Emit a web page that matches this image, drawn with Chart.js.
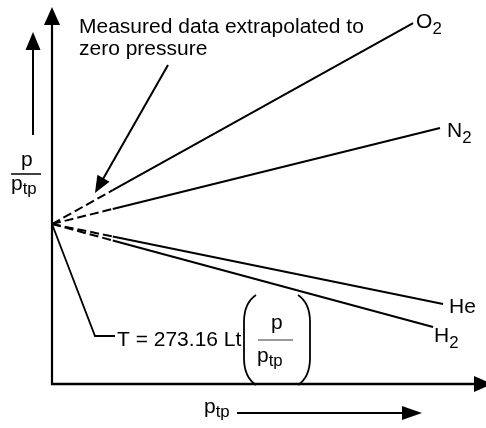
<!DOCTYPE html>
<html>
<head>
<meta charset="utf-8">
<script src="https://cdn.jsdelivr.net/npm/chart.js@4.4.1/dist/chart.umd.min.js"></script>
<style>
html, body { margin: 0; padding: 0; background: #fff; }
#wrap { width: 486px; height: 428px; }
</style>
</head>
<body>
<div id="wrap"><canvas id="gasChart"></canvas></div>
<script>
// gas thermometer: p/p_tp against p_tp, extrapolated to zero pressure
const gasNames = ['O', 'N', 'He', 'H'];
const gasSubs = ['2', '2', '', '2'];
const ratioAtZero = 1.0;
const ptpMeasuredFrom = [1.4, 1.4, 1.4, 1.4];
const ptpMeasuredTo = [8.32, 8.94, 9.01, 8.78];
const ratioMeasuredFrom = [1.211, 1.094, 0.922, 0.897];
const ratioMeasuredTo = [2.256, 1.6, 0.5, 0.356];

const FONT = '"Liberation Sans", Arial, sans-serif';
const stretch = 1.05;

function txt(ctx, s, x, y, size) {
    ctx.save();
    ctx.font = size + 'px ' + FONT;
    ctx.textBaseline = 'alphabetic';
    ctx.textAlign = 'left';
    ctx.translate(x, y);
    ctx.scale(stretch, 1);
    ctx.fillText(s, 0, 0);
    ctx.restore();
    ctx.font = size + 'px ' + FONT;
    return ctx.measureText(s).width * stretch;
}

function txtSub(ctx, s, sub, x, y, size, drop) {
    const w = txt(ctx, s, x, y, size);
    if (sub) txt(ctx, sub, x + w, y + drop, Math.round(size * 0.78));
}

function arrow(ctx, x1, y1, x2, y2, len, wid, lw) {
    const a = Math.atan2(y2 - y1, x2 - x1);
    const bx = x2 - Math.cos(a) * len, by = y2 - Math.sin(a) * len;
    ctx.lineWidth = lw;
    ctx.beginPath();
    ctx.moveTo(x1, y1);
    ctx.lineTo(bx + Math.cos(a) * 2, by + Math.sin(a) * 2);
    ctx.stroke();
    ctx.beginPath();
    ctx.moveTo(x2, y2);
    ctx.lineTo(bx + Math.sin(a) * wid / 2, by - Math.cos(a) * wid / 2);
    ctx.lineTo(bx - Math.sin(a) * wid / 2, by + Math.cos(a) * wid / 2);
    ctx.closePath();
    ctx.fill();
}

const labelOffsets = [[3, 5], [7, 9], [6, 9], [1, 15]];

const decor = {
    id: 'decor',
    afterDraw(chart) {
        const ctx = chart.ctx;
        const {left, bottom, right} = chart.chartArea;
        const xs = chart.scales.x, ys = chart.scales.y;
        ctx.save();
        ctx.strokeStyle = '#000';
        ctx.fillStyle = '#000';
        ctx.lineCap = 'butt';

        // axes
        arrow(ctx, left, bottom + 1, left, 7, 18, 16, 2.2);
        arrow(ctx, left - 1, bottom, right + 6, bottom, 18, 16, 2.5);

        // gas labels at line ends
        gasNames.forEach((g, i) => {
            const px = xs.getPixelForValue(ptpMeasuredTo[i]);
            const py = ys.getPixelForValue(ratioMeasuredTo[i]);
            txtSub(ctx, g, gasSubs[i], px + labelOffsets[i][0], py + labelOffsets[i][1], 20, 6);
        });

        // y label p / p_tp with arrow
        arrow(ctx, 33, 135, 33, 32, 18, 15, 2);
        txt(ctx, 'p', 21, 166, 20);
        ctx.lineWidth = 1.5;
        ctx.beginPath(); ctx.moveTo(11, 174); ctx.lineTo(41, 174); ctx.stroke();
        txtSub(ctx, 'p', 'tp', 11, 190, 20, 4);

        // x label p_tp with arrow
        txtSub(ctx, 'p', 'tp', 204, 413, 20, 4);
        arrow(ctx, 237, 413, 422, 413, 20, 14, 2);

        // annotation: extrapolation
        txt(ctx, 'Measured data extrapolated to', 79, 33, 20);
        txt(ctx, 'zero pressure', 79, 55, 20);
        arrow(ctx, 168, 65, 95, 193, 17, 14, 2);

        // annotation: T formula
        const ox = xs.getPixelForValue(0), oy = ys.getPixelForValue(ratioAtZero);
        ctx.lineWidth = 1.8;
        ctx.beginPath();
        ctx.moveTo(ox, oy); ctx.lineTo(95, 336); ctx.lineTo(115, 336);
        ctx.stroke();
        txt(ctx, 'T = 273.16 Lt', 117, 346, 20);
        ctx.lineWidth = 1.8;
        ctx.beginPath();
        ctx.moveTo(256, 295); ctx.quadraticCurveTo(244, 303, 244, 322);
        ctx.lineTo(244, 358); ctx.quadraticCurveTo(244, 377, 256, 385);
        ctx.moveTo(298, 295); ctx.quadraticCurveTo(310, 303, 310, 322);
        ctx.lineTo(310, 358); ctx.quadraticCurveTo(310, 377, 298, 385);
        ctx.stroke();
        txt(ctx, 'p', 271, 329, 20);
        ctx.strokeStyle = '#777';
        ctx.lineWidth = 1.5;
        ctx.beginPath(); ctx.moveTo(258, 340); ctx.lineTo(293, 340); ctx.stroke();
        txtSub(ctx, 'p', 'tp', 257, 362, 20, 4);
        ctx.restore();
    }
};

const datasets = gasNames.map((g, i) => ({
    label: g + gasSubs[i],
    data: [
        {x: 0, y: ratioAtZero},
        {x: ptpMeasuredFrom[i], y: ratioMeasuredFrom[i]},
        {x: ptpMeasuredTo[i], y: ratioMeasuredTo[i]},
    ],
    borderColor: '#000',
    borderWidth: 2,
    pointRadius: 0,
    tension: 0,
    fill: false,
    clip: false,
    segment: {
        borderDash: ctx => ctx.p0DataIndex === 0 ? [9, 4] : undefined
    }
}));

const myChart = new Chart(document.getElementById('gasChart'), {
    type: 'line',
    data: {datasets: datasets},
    options: {
        responsive: true,
        maintainAspectRatio: false,
        animation: false,
        layout: {padding: {left: 52, right: 0, top: 0, bottom: 44}},
        plugins: {legend: {display: false}, tooltip: {enabled: false}},
        scales: {
            x: {type: 'linear', min: 0, max: 10, display: false},
            y: {type: 'linear', min: 0, max: 2.4, display: false}
        }
    },
    plugins: [decor]
});
</script>
</body>
</html>
